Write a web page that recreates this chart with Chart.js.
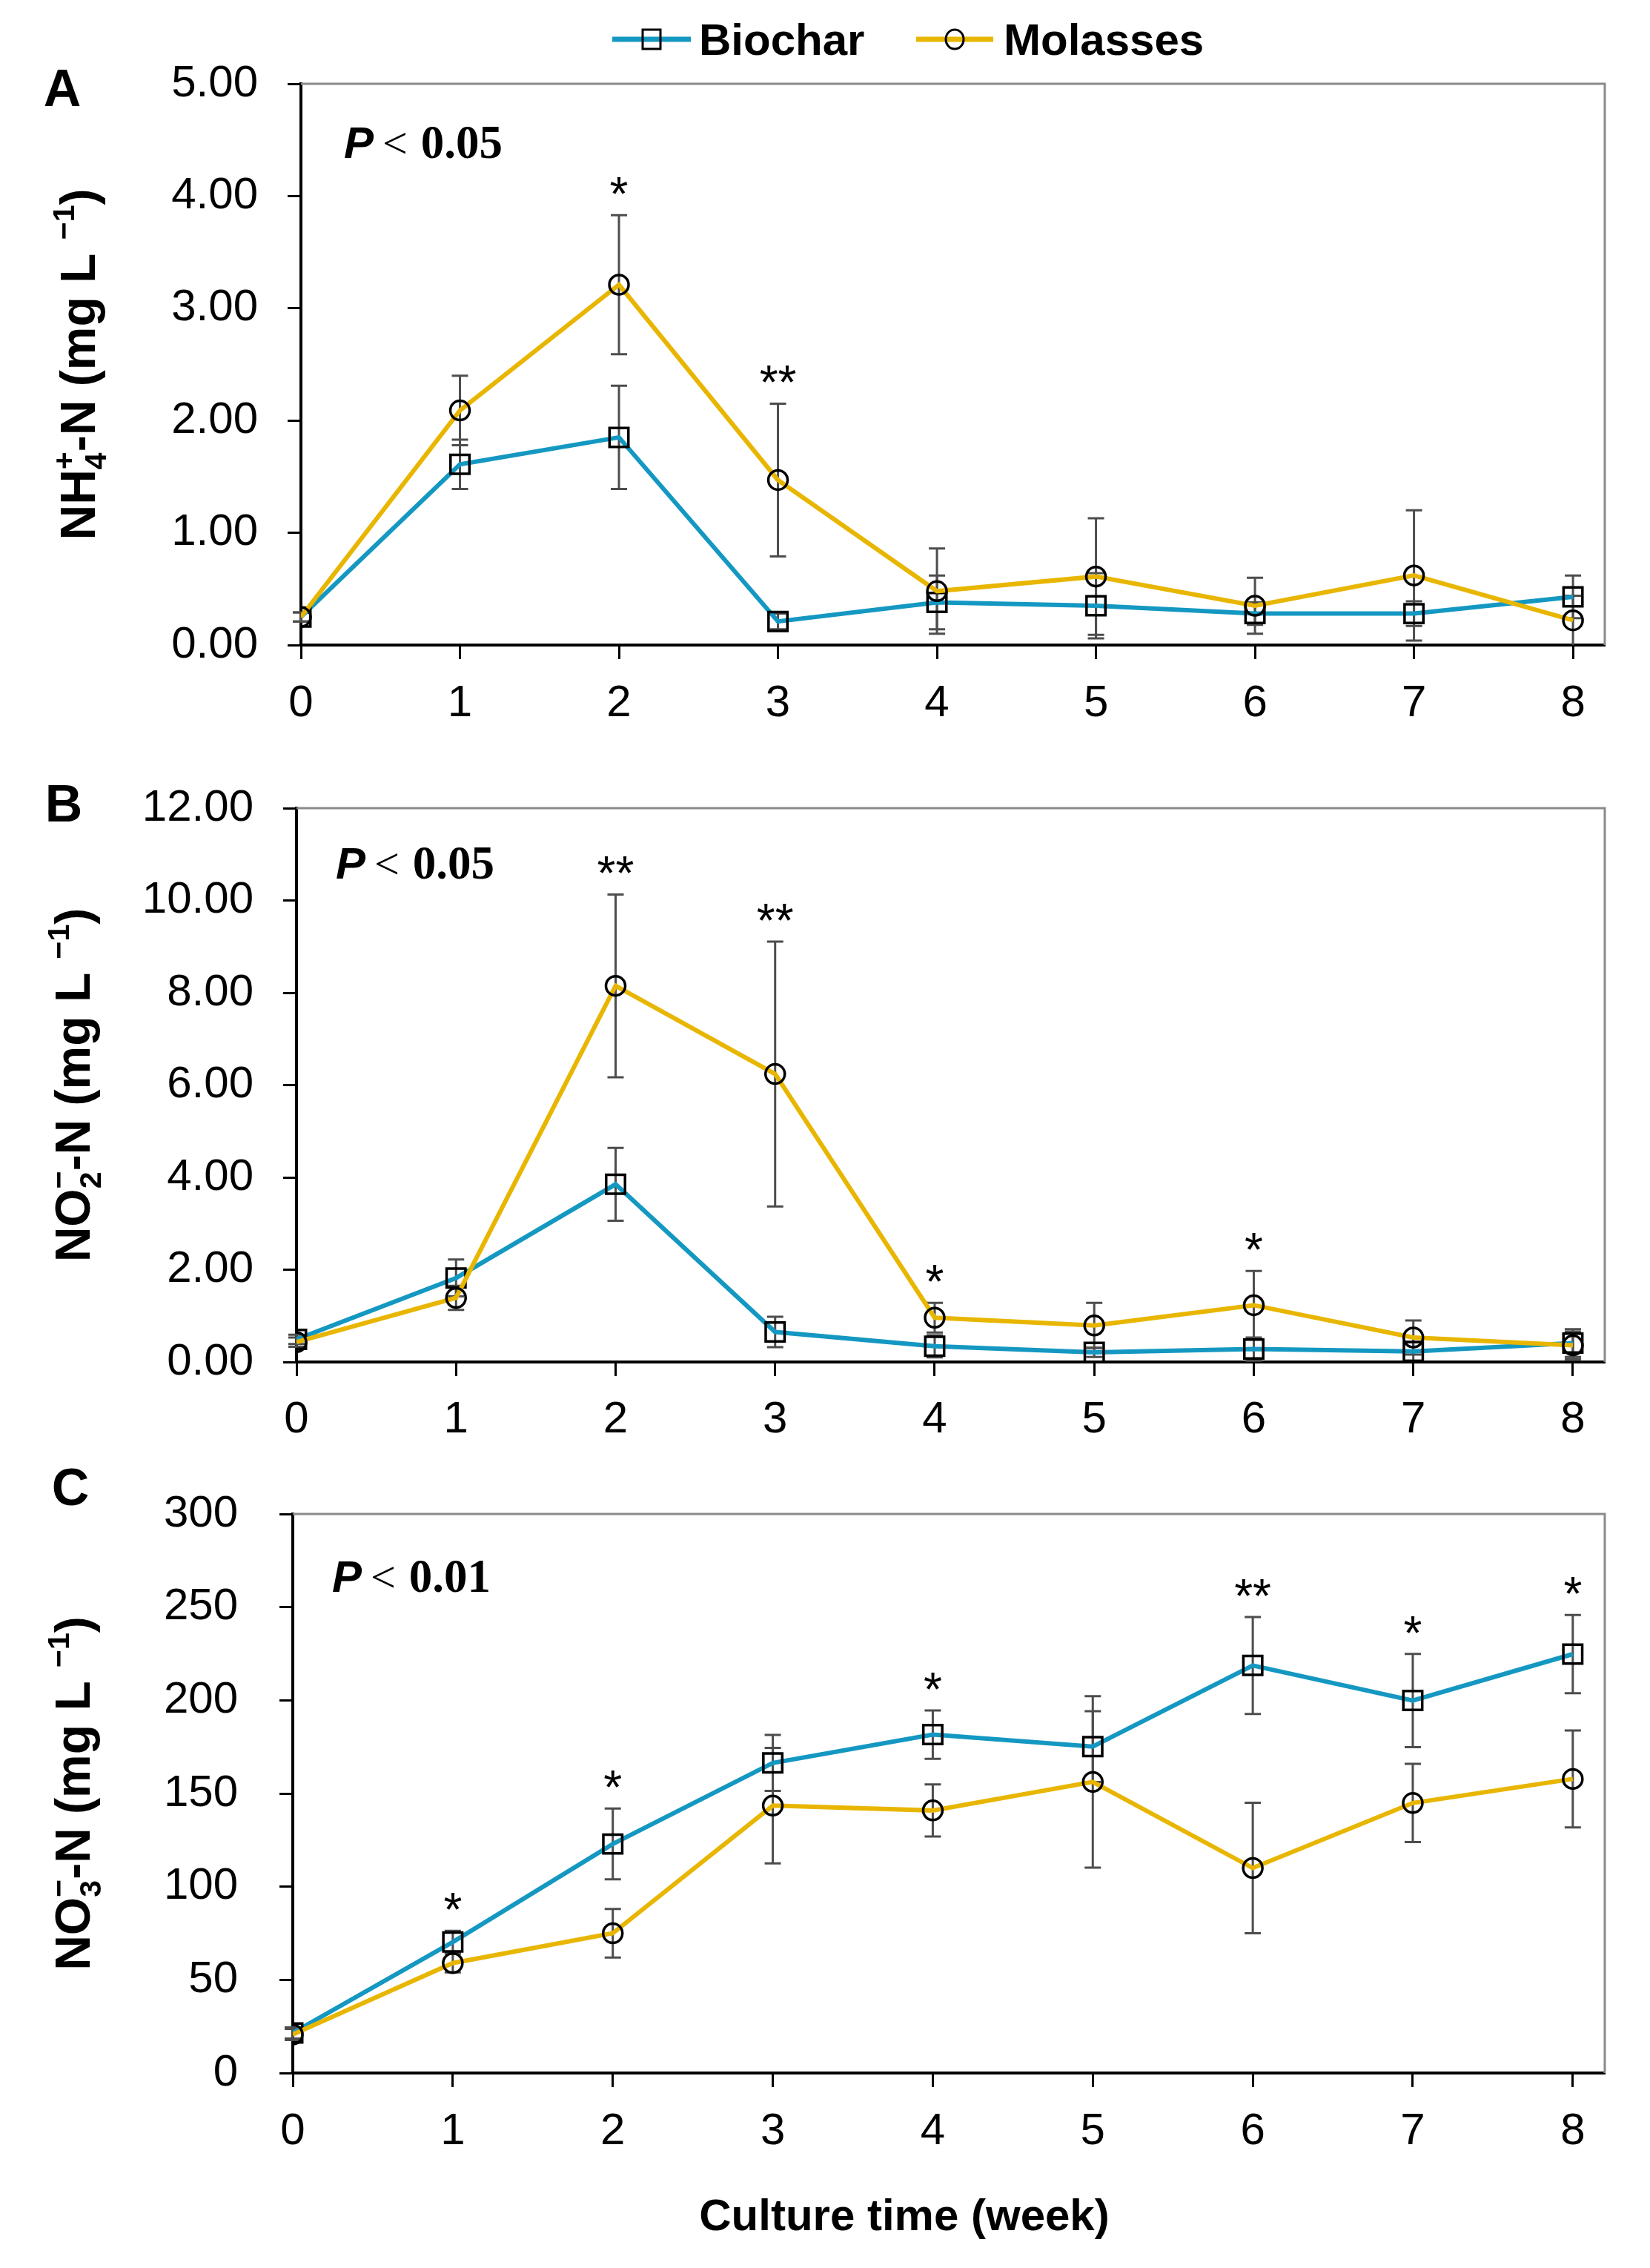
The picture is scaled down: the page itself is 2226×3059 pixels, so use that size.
<!DOCTYPE html>
<html>
<head>
<meta charset="utf-8">
<script src="https://cdn.jsdelivr.net/npm/chart.js@4.4.1/dist/chart.umd.min.js"></script>
<style>
  html, body { margin: 0; padding: 0; background: #fff; }
  body { width: 2226px; height: 3059px; position: relative; overflow: hidden; }
  canvas { position: absolute; left: 0; }
</style>
</head>
<body>
<canvas id="chartA" width="2226" height="1000" style="top:0px"></canvas>
<canvas id="chartB" width="2226" height="1000" style="top:1000px"></canvas>
<canvas id="chartC" width="2226" height="1109" style="top:1950px"></canvas>
<script>
// ---- data ----
const weeks = [0, 1, 2, 3, 4, 5, 6, 7, 8];
const xTicks = [0, 1, 2, 3, 4, 5, 6, 7, 8];
const seriesNames = ['Biochar', 'Molasses'];

// A: NH4+-N (mg/L)
const nh4Biochar    = [0.25, 1.61, 1.85, 0.21, 0.38, 0.35, 0.28, 0.28, 0.43];
const nh4BiocharSd  = [0.04, 0.22, 0.46, 0.07, 0.24, 0.29, 0.10, 0.11, 0.19];
const nh4Molasses   = [0.25, 2.09, 3.21, 1.47, 0.48, 0.61, 0.35, 0.62, 0.22];
const nh4MolassesSd = [0.04, 0.31, 0.62, 0.68, 0.38, 0.52, 0.25, 0.58, 0.22];
const nh4Sig   = ['', '', '*', '**', '', '', '', '', ''];
const nh4Ticks = [0, 1, 2, 3, 4, 5];

// B: NO2--N (mg/L)
const no2Biochar    = [0.49, 1.82, 3.85, 0.65, 0.34, 0.21, 0.28, 0.23, 0.41];
const no2BiocharSd  = [0.10, 0.40, 0.79, 0.33, 0.24, 0.10, 0.25, 0.20, 0.30];
const no2Molasses   = [0.43, 1.39, 8.15, 6.24, 0.96, 0.79, 1.23, 0.53, 0.36];
const no2MolassesSd = [0.10, 0.26, 1.98, 2.87, 0.32, 0.49, 0.74, 0.37, 0.30];
const no2Sig   = ['', '', '**', '**', '*', '', '*', '', ''];
const no2Ticks = [0, 2, 4, 6, 8, 10, 12];

// C: NO3--N (mg/L)
const no3Biochar    = [21.5, 70.3, 122.9, 166.4, 181.6, 175.2, 218.7, 199.9, 224.8];
const no3BiocharSd  = [3, 6, 19, 15, 13, 19, 26, 25, 21];
const no3Molasses   = [20.7, 59.0, 75.0, 143.5, 140.9, 156.2, 110.0, 144.9, 157.8];
const no3MolassesSd = [3, 5, 13, 31, 14, 46, 35, 21, 26];
const no3Sig   = ['', '*', '*', '', '*', '', '**', '*', '*'];
const no3Ticks = [0, 50, 100, 150, 200, 250, 300];

// ---- styling ----
const BLUE = '#1498c2';
const GOLD = '#e8b600';
const SANS = "'Liberation Sans', Arial, sans-serif";
const SERIF = "'Liberation Serif', 'Times New Roman', serif";
Chart.defaults.font.family = SANS;

// rotated axis title with sub/superscripts
function drawRuns(ctx, runs, size, baseX, centerY) {
  const small = Math.round(size * 0.62);
  const font = s => `bold ${s}px ${SANS}`;
  let total = 0;
  const widths = runs.map(r => {
    let w;
    if (r.t) { ctx.font = font(size); w = ctx.measureText(r.t).width; }
    else {
      ctx.font = font(small);
      w = Math.max(ctx.measureText(r.sub || '').width, ctx.measureText(r.sup || '').width);
    }
    total += w;
    return w;
  });
  ctx.save();
  ctx.translate(baseX, centerY);
  ctx.rotate(-Math.PI / 2);
  ctx.fillStyle = '#000';
  ctx.textBaseline = 'alphabetic';
  ctx.textAlign = 'left';
  let x = -total / 2;
  runs.forEach((r, i) => {
    if (r.t) { ctx.font = font(size); ctx.fillText(r.t, x, 0); }
    else {
      ctx.font = font(small);
      if (r.sub) ctx.fillText(r.sub, x, size * 0.22);
      if (r.sup) ctx.fillText(r.sup, x, -size * 0.42);
    }
    x += widths[i];
  });
  ctx.restore();
}

function panelExtras(p) {
  return {
    id: 'extras' + p.letter,
    beforeDatasetsDraw(chart) {
      const { ctx, chartArea: a, scales: { x, y } } = chart;
      ctx.save();
      // grey plot frame (top / right)
      ctx.strokeStyle = '#8a8a8a';
      ctx.lineWidth = 3;
      ctx.beginPath();
      ctx.moveTo(a.left, a.top);
      ctx.lineTo(a.right, a.top);
      ctx.lineTo(a.right, a.bottom);
      ctx.stroke();
      // error bars
      ctx.strokeStyle = '#4d4d4d';
      ctx.lineWidth = 3;
      const cap = 11;
      p.series.forEach(s => {
        s.mean.forEach((m, i) => {
          const px = x.getPixelForValue(weeks[i]);
          const top = y.getPixelForValue(m + s.sd[i]);
          const bot = Math.min(y.getPixelForValue(m - s.sd[i]), a.bottom);
          ctx.beginPath();
          ctx.moveTo(px, top); ctx.lineTo(px, bot);
          ctx.moveTo(px - cap, top); ctx.lineTo(px + cap, top);
          if (bot < a.bottom) { ctx.moveTo(px - cap, bot); ctx.lineTo(px + cap, bot); }
          ctx.stroke();
        });
      });
      ctx.restore();
    },
    afterDatasetsDraw(chart) {
      const { ctx, scales: { x, y } } = chart;
      ctx.save();
      ctx.fillStyle = '#000';
      ctx.font = `64px ${SANS}`;
      ctx.textAlign = 'center';
      ctx.textBaseline = 'alphabetic';
      p.sig.forEach((s, i) => {
        if (!s) return;
        const hi = Math.max(...p.series.map(se => se.mean[i] + se.sd[i]));
        ctx.fillText(s, x.getPixelForValue(weeks[i]), y.getPixelForValue(hi) - 6);
      });
      ctx.restore();
    },
    afterDraw(chart) {
      const { ctx, chartArea: a } = chart;
      ctx.save();
      ctx.fillStyle = '#000';
      ctx.textBaseline = 'alphabetic';
      // panel letter
      ctx.font = `bold 70px ${SANS}`;
      ctx.textAlign = 'center';
      ctx.fillText(p.letter, p.letterX, p.letterY);
      // P value
      ctx.textAlign = 'left';
      let px = a.left + p.pDx;
      const py = a.top + p.pDy;
      ctx.font = `italic bold 60px ${SANS}`;
      ctx.fillText('P', px, py);
      px += ctx.measureText('P').width + 12;
      ctx.font = `60px ${SERIF}`;
      ctx.fillText('<', px, py);
      px += ctx.measureText('<').width + 18;
      ctx.font = `bold 63px ${SERIF}`;
      ctx.fillText(p.pValue, px, py);
      ctx.restore();
      // y title
      drawRuns(ctx, p.yTitle, 66, p.yTitleX, (a.top + a.bottom) / 2);
      if (p.legend) drawLegend(ctx);
      if (p.xTitle) {
        ctx.save();
        ctx.fillStyle = '#000';
        ctx.font = `bold 60px ${SANS}`;
        ctx.textAlign = 'center';
        ctx.fillText('Culture time (week)', 1220, 1058);
        ctx.restore();
      }
    }
  };
}

function drawLegend(ctx) {
  const items = [
    { name: seriesNames[0], color: BLUE, style: 'rect', x0: 826, x1: 932, tx: 943 },
    { name: seriesNames[1], color: GOLD, style: 'circle', x0: 1236, x1: 1340, tx: 1354 }
  ];
  const cy = 53;
  ctx.save();
  items.forEach(it => {
    ctx.strokeStyle = it.color;
    ctx.lineWidth = 7;
    ctx.beginPath(); ctx.moveTo(it.x0, cy); ctx.lineTo(it.x1, cy); ctx.stroke();
    const mx = (it.x0 + it.x1) / 2;
    ctx.strokeStyle = '#000';
    ctx.lineWidth = 3;
    ctx.beginPath();
    if (it.style === 'rect') ctx.rect(mx - 12, cy - 13, 24, 26);
    else ctx.ellipse(mx, cy, 12, 13, 0, 0, Math.PI * 2);
    ctx.stroke();
    ctx.fillStyle = '#000';
    ctx.font = `bold 60px ${SANS}`;
    ctx.textAlign = 'left';
    ctx.textBaseline = 'alphabetic';
    ctx.fillText(it.name, it.tx, cy + 21);
  });
  ctx.restore();
}

function makePanel(id, p) {
  const canvas = document.getElementById(id);
  const H = canvas.height;
  const toXY = arr => arr.map((v, i) => ({ x: weeks[i], y: v }));
  return new Chart(canvas, {
    type: 'line',
    data: {
      datasets: [
        {
          label: seriesNames[0], data: toXY(p.series[0].mean), order: 1,
          borderColor: BLUE, borderWidth: 6, tension: 0,
          pointStyle: 'rect', pointRadius: 18, pointBorderWidth: 3.5,
          pointBorderColor: '#000', pointBackgroundColor: 'rgba(0,0,0,0)'
        },
        {
          label: seriesNames[1], data: toXY(p.series[1].mean), order: 0,
          borderColor: GOLD, borderWidth: 6, tension: 0,
          pointStyle: 'circle', pointRadius: 13, pointBorderWidth: 3.5,
          pointBorderColor: '#000', pointBackgroundColor: 'rgba(0,0,0,0)'
        }
      ]
    },
    options: {
      responsive: false,
      animation: false,
      events: [],
      layout: { padding: { top: p.top, right: 2226 - 2165, bottom: 0, left: 0 } },
      plugins: { legend: { display: false }, tooltip: { enabled: false } },
      scales: {
        x: {
          type: 'linear', min: 0, max: 8.2,
          afterFit: s => { s.height = H - p.bottom; },
          afterBuildTicks: s => { s.ticks = xTicks.map(v => ({ value: v })); },
          border: { color: '#000', width: 4 },
          grid: { drawOnChartArea: false, tickLength: 19, tickWidth: 3, tickColor: '#000' },
          ticks: { color: '#000', font: { size: 60 }, padding: p.xPad, maxRotation: 0 }
        },
        y: {
          type: 'linear', min: p.yTicks[0], max: p.yTicks[p.yTicks.length - 1],
          afterFit: s => { s.width = p.left; },
          afterBuildTicks: s => { s.ticks = p.yTicks.map(v => ({ value: v })); },
          border: { color: '#000', width: 4 },
          grid: { drawOnChartArea: false, tickLength: 18, tickWidth: 3, tickColor: '#000' },
          ticks: {
            color: '#000', font: { size: 60 }, padding: p.yPad,
            callback: v => v.toFixed(p.decimals)
          }
        }
      }
    },
    plugins: [panelExtras(p)]
  });
}

makePanel('chartA', {
  letter: 'A', letterX: 84, letterY: 143,
  top: 113, bottom: 870, left: 406, xPad: 24, yPad: 40, decimals: 2,
  yTicks: nh4Ticks, sig: nh4Sig, pValue: '0.05', pDx: 58, pDy: 100,
  series: [{ mean: nh4Biochar, sd: nh4BiocharSd }, { mean: nh4Molasses, sd: nh4MolassesSd }],
  yTitleX: 128,
  yTitle: [{ t: 'NH' }, { sub: '4', sup: '+' }, { t: '-N (mg L ' }, { sup: '\u22121' }, { t: ')' }],
  legend: true
});

makePanel('chartB', {
  letter: 'B', letterX: 86, letterY: 108,
  top: 90, bottom: 837, left: 400, xPad: 23, yPad: 40, decimals: 2,
  yTicks: no2Ticks, sig: no2Sig, pValue: '0.05', pDx: 53, pDy: 95,
  series: [{ mean: no2Biochar, sd: no2BiocharSd }, { mean: no2Molasses, sd: no2MolassesSd }],
  yTitleX: 121,
  yTitle: [{ t: 'NO' }, { sub: '2', sup: '\u2212' }, { t: '-N (mg L ' }, { sup: '\u22121' }, { t: ')' }]
});

makePanel('chartC', {
  letter: 'C', letterX: 95, letterY: 80,
  top: 92, bottom: 846, left: 395, xPad: 24, yPad: 56, decimals: 0,
  yTicks: no3Ticks, sig: no3Sig, pValue: '0.01', pDx: 53, pDy: 105,
  series: [{ mean: no3Biochar, sd: no3BiocharSd }, { mean: no3Molasses, sd: no3MolassesSd }],
  yTitleX: 121,
  yTitle: [{ t: 'NO' }, { sub: '3', sup: '\u2212' }, { t: '-N (mg L ' }, { sup: '\u22121' }, { t: ')' }],
  xTitle: true
});
</script>
</body>
</html>
